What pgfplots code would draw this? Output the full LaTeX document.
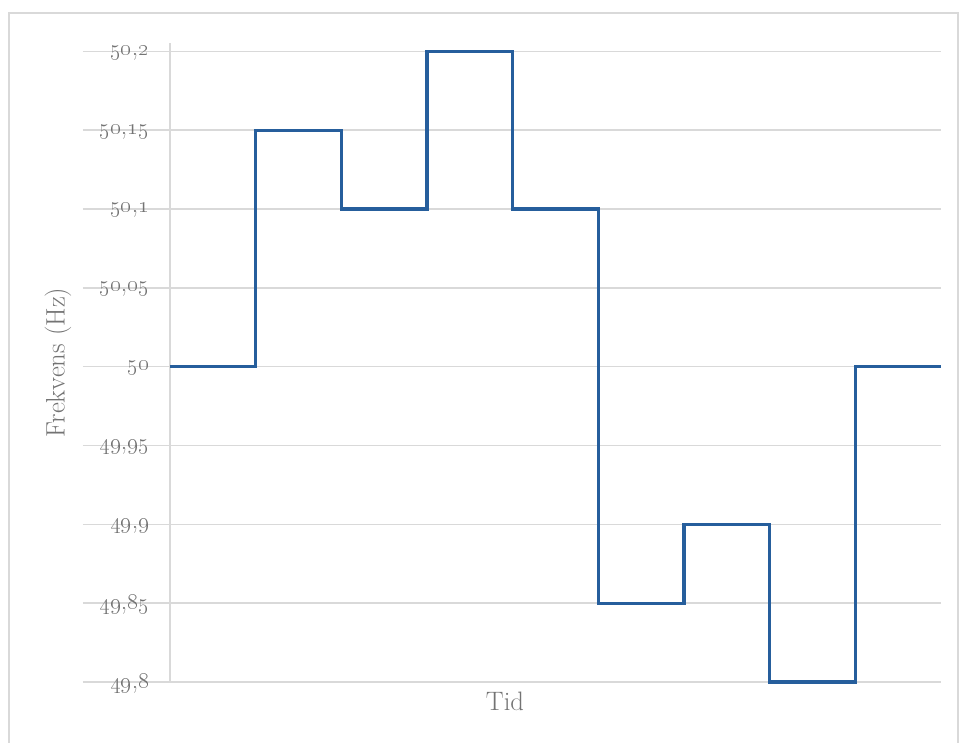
\documentclass[border=0pt]{standalone}
\usepackage{pgfplots}
\pgfplotsset{compat=1.18}
\definecolor{linec}{RGB}{38,94,156}
\definecolor{gridc}{RGB}{217,217,217}
\definecolor{txtc}{RGB}{115,115,115}
\newcommand{\os}[1]{\oldstylenums{#1}}
\begin{document}
\begin{tikzpicture}
\path[use as bounding box] (0,0) rectangle (719.25pt,556.5pt);
\clip (0,0) rectangle (719.25pt,556.5pt);
\draw[gridc, line width=1.5pt] (6.75pt,-5pt) rectangle (718.5pt,546.75pt);
\begin{axis}[
  at={(127.5pt,45pt)}, anchor=south west,
  scale only axis, width=578.25pt, height=479.25pt,
  xmin=0, xmax=9, ymin=49.8, ymax=50.2053,
  clip=false,
  axis lines*=left,
  x axis line style={draw=none},
  y axis line style={draw=gridc, line width=1.5pt},
  xtick=\empty,
  ytick={49.8,49.85,49.9,49.95,50,50.05,50.1,50.15,50.2},
  yticklabels={{\os{49},\os{8}}, {\os{49},\os{85}}, {\os{49},\os{9}}, {\os{49},\os{95}}, {\os{50}}, {\os{50},\os{05}}, {\os{50},\os{1}}, {\os{50},\os{15}}, {\os{50},\os{2}}},
  ymajorgrids,
  grid style={draw=gridc, line width=1.2pt},
  major tick length=65.25pt, tick align=outside,
  ytick style={draw=gridc, line width=1.2pt},
  yticklabel style={font=\fontsize{19}{20}\selectfont, text=txtc, anchor=east, xshift=53pt, yshift=-1pt},
  xlabel={Tid}, ylabel={Frekvens (Hz)},
  xlabel style={at={(axis description cs:0.4345,0)}, anchor=north, yshift=-4pt, font=\fontsize{20}{21}\selectfont, text=txtc},
  ylabel style={at={(axis description cs:0,0.5)}, anchor=center, yshift=84pt, font=\fontsize{20}{21}\selectfont, text=txtc},
]
\addplot[const plot, linec, line width=2.3pt, line join=miter, mark=none] coordinates {
(0,50) (1,50.15) (2,50.1) (3,50.2) (4,50.1) (5,49.85) (6,49.9) (7,49.8) (8,50) (9,50)
};
\end{axis}
\end{tikzpicture}
\end{document}
